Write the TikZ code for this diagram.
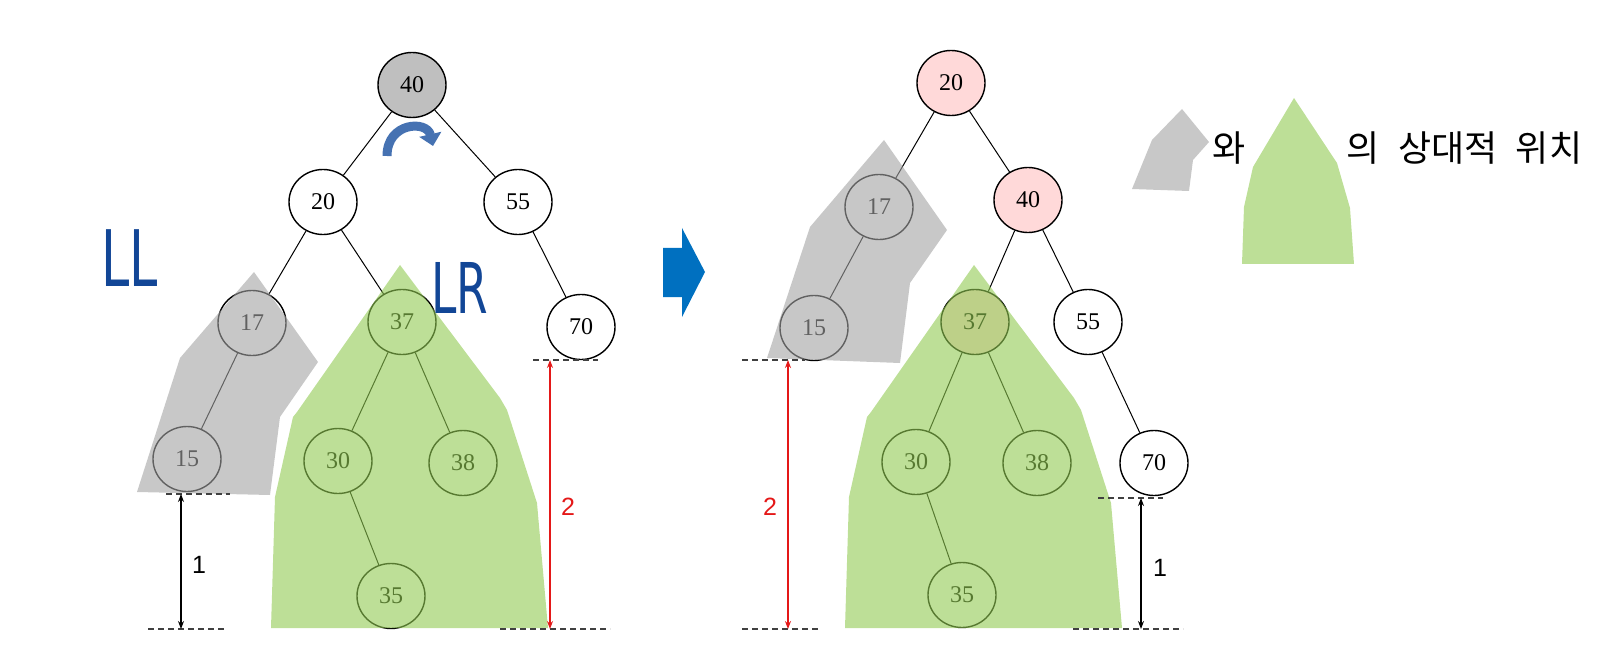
\documentclass[tikz,border=0pt]{standalone}
\usepackage{fontspec}
\setmainfont{Liberation Serif}
\newfontfamily\labelfont{Liberation Sans}
\newfontfamily\krfont[WordSpace=2.3]{Noto Sans CJK KR}
\newfontfamily\handfont[FakeStretch=0.65]{DejaVu Sans}
\usetikzlibrary{arrows.meta,shapes.geometric}
\definecolor{shadegray}{RGB}{163,163,163}
\definecolor{shadegreen}{RGB}{145,202,82}
\definecolor{rootgray}{RGB}{191,191,191}
\definecolor{movedpink}{RGB}{255,217,217}
\definecolor{penblue}{RGB}{18,70,150}
\definecolor{turnblue}{RGB}{70,114,178}
\definecolor{stepblue}{RGB}{0,112,192}
\definecolor{hred}{RGB}{228,24,24}
\definecolor{dashgray}{RGB}{64,64,64}

\begin{document}
\begin{tikzpicture}[x=0.5pt,y=-0.5pt,
  bstnode/.style={ellipse,draw,line width=0.7pt,fill=white,minimum width=34pt,
    minimum height=32.5pt,inner sep=0pt,font=\fontsize{12}{14}\selectfont},
  branch/.style={line width=0.5pt},
  levelline/.style={dashgray,dash pattern=on 3pt off 2pt,line width=0.6pt},
  ht/.style={{Stealth[length=4pt,width=3pt]}-{Stealth[length=4pt,width=3pt]},line width=0.6pt},
  htlabel/.style={font=\labelfont\fontsize{12.5}{14}\selectfont},
  pen/.style={penblue,inner sep=0pt},
  krtext/.style={font=\krfont\fontsize{18}{20}\selectfont,inner sep=0pt},
  shadeg/.style={fill=shadegray,fill opacity=0.6},
  shadeG/.style={fill=shadegreen,fill opacity=0.6}]
  \useasboundingbox (0,0) rectangle (1603,658);

  % before the rotation
  \node[bstnode,fill=rootgray] (a40) at (412,85) {40};
  \node[bstnode] (a20) at (323,202) {20};
  \node[bstnode] (a55) at (518,202) {55};
  \node[bstnode] (a17) at (252,323) {17};
  \node[bstnode] (a37) at (402,322) {37};
  \node[bstnode] (a70) at (581,327) {70};
  \node[bstnode] (a15) at (187,459) {15};
  \node[bstnode] (a30) at (338,461) {30};
  \node[bstnode] (a38) at (463,463) {38};
  \node[bstnode] (a35) at (391,596) {35};
  \draw[branch] (a40) -- (a20) (a40) -- (a55) (a20) -- (a17) (a20) -- (a37)
    (a55) -- (a70) (a17) -- (a15) (a37) -- (a30) (a37) -- (a38) (a30) -- (a35);

  \fill[shadeg] (254,272) -- (318,362) -- (280,417) -- (270,495) -- (137,492)
    -- (180,358) -- cycle;
  \fill[shadeG] (400,265) -- (500,398) -- (507,410) -- (537,503) -- (548,628)
    -- (271,628) -- (275,497) -- (293,417) -- (297,412) -- cycle;

  \node[pen,font=\handfont\fontsize{39}{40}\selectfont] (ll) at (130,258) {LL};
  \node[pen,font=\handfont\fontsize{35}{36}\selectfont] (lr) at (460,288) {LR};

  \draw[turnblue,line width=4.5pt,-{Triangle[length=6pt,width=11pt]}]
    (387,156) .. controls (387,122) and (427,120) .. (433,146);

  % heights
  \draw[levelline] (166,494) -- (230,494);
  \draw[levelline] (148,629) -- (227,629);
  \draw[levelline] (533,360) -- (598,360);
  \draw[levelline] (500,629) -- (610,629);
  \coordinate (aLtop) at (181,494);
  \coordinate (aLbot) at (181,629);
  \coordinate (aRtop) at (550,360);
  \coordinate (aRbot) at (550,629);
  \draw[ht] (aLtop) -- (aLbot);
  \draw[ht,hred] (aRtop) -- (aRbot);
  \node[htlabel] (aone) at (199,565) {1};
  \node[htlabel,hred] (atwo) at (568,507) {2};

  % step arrow
  \fill[stepblue] (663,248) -- (682,248) -- (682,228) -- (705,272) -- (682,317)
    -- (682,297) -- (663,297) -- cycle;

  % after the rotation
  \node[bstnode,fill=movedpink] (b20) at (951,83) {20};
  \node[bstnode] (b17) at (879,207) {17};
  \node[bstnode,fill=movedpink] (b40) at (1028,200) {40};
  \node[bstnode] (b15) at (814,328) {15};
  \node[bstnode,fill=movedpink] (b37) at (975,322) {37};
  \node[bstnode] (b55) at (1088,322) {55};
  \node[bstnode] (b30) at (916,462) {30};
  \node[bstnode] (b38) at (1037,463) {38};
  \node[bstnode] (b35) at (962,595) {35};
  \node[bstnode] (b70) at (1154,463) {70};
  \draw[branch] (b20) -- (b17) (b20) -- (b40) (b17) -- (b15) (b40) -- (b37)
    (b40) -- (b55) (b37) -- (b30) (b37) -- (b38) (b30) -- (b35) (b55) -- (b70);

  \fill[shadeg] (884,140) -- (947,230) -- (910,283) -- (900,363) -- (767,358)
    -- (810,227) -- cycle;
  \fill[shadeG] (974,265) -- (1074,398) -- (1081,410) -- (1111,503) -- (1122,628)
    -- (845,628) -- (849,497) -- (867,417) -- (871,412) -- cycle;

  \draw[levelline] (742,360) -- (805,360);
  \draw[levelline] (742,629) -- (820,629);
  \draw[levelline] (1098,498) -- (1163,498);
  \draw[levelline] (1073,629) -- (1183,629);
  \coordinate (bLtop) at (788,360);
  \coordinate (bLbot) at (788,629);
  \coordinate (bRtop) at (1141,498);
  \coordinate (bRbot) at (1141,629);
  \draw[ht,hred] (bLtop) -- (bLbot);
  \draw[ht] (bRtop) -- (bRbot);
  \node[htlabel,hred] (btwo) at (770,507) {2};
  \node[htlabel] (bone) at (1160,568) {1};

  % legend
  \fill[shadeg] (1182,109) -- (1209,142) -- (1193,160) -- (1189,191) -- (1132,189)
    -- (1152,140) -- cycle;
  \fill[shadeG] (1294,98) -- (1337,163) -- (1350,208) -- (1354,264) -- (1242,264)
    -- (1244,207) -- (1253,167) -- cycle;
  \node[krtext] (wa) at (1229,148) {와};
  \node[krtext,anchor=west] (relpos) at (1346,148) {의 상대적 위치};
\end{tikzpicture}
\end{document}
